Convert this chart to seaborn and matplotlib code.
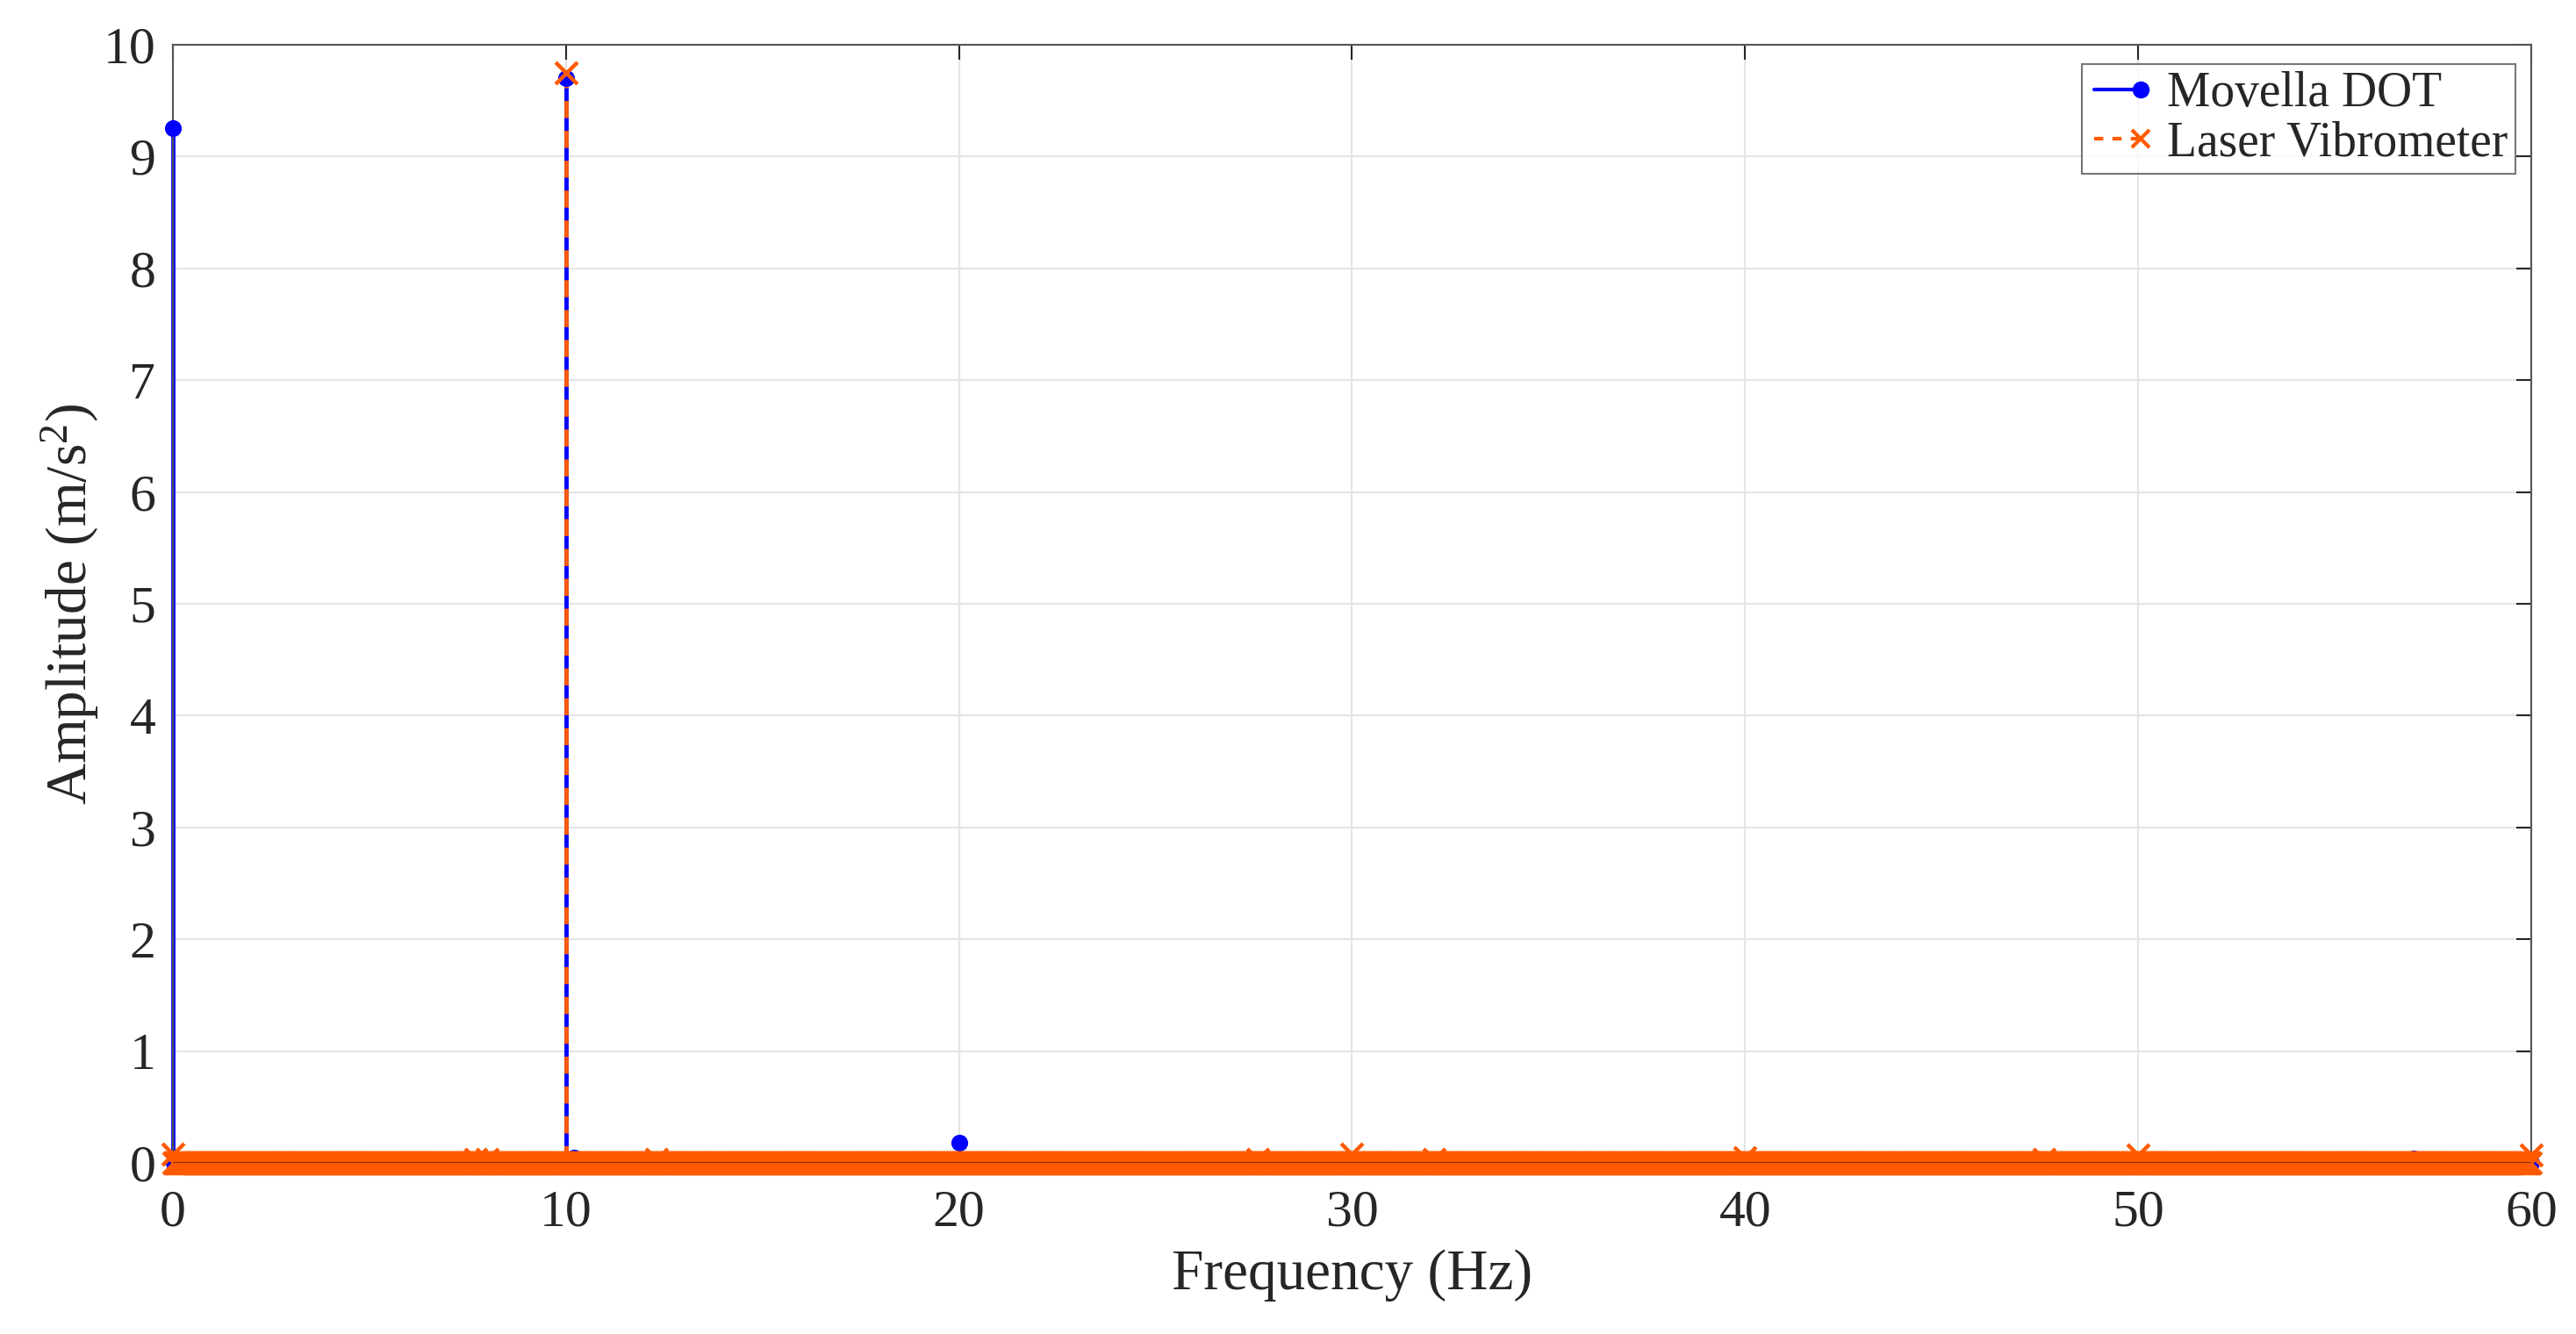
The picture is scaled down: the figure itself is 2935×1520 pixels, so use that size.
import numpy as np
import pandas as pd
import matplotlib
matplotlib.use('Agg')
import matplotlib.pyplot as plt
from matplotlib.lines import Line2D
from matplotlib.legend_handler import HandlerLine2D
import seaborn as sns

# frequency grid of the spectrum (Hz)
freq_step = 0.02
freq_max = 60

# peaks (Hz, m/s^2); everything else sits at ~0
dot_peak_freq = [0.0, 10.0, 10.2, 20.0, 57.0]
dot_peak_amp = [9.25, 9.70, 0.05, 0.18, 0.04]
laser_peak_freq = [0.0, 7.7, 8.0, 10.0, 12.3, 27.6, 30.0, 32.1, 40.0, 47.6, 50.0, 60.0]
laser_peak_amp = [0.08, 0.03, 0.03, 9.75, 0.03, 0.03, 0.08, 0.03, 0.05, 0.03, 0.07, 0.07]

xticks = [0, 10, 20, 30, 40, 50, 60]
yticks = [0, 1, 2, 3, 4, 5, 6, 7, 8, 9, 10]

blue = '#0000ff'
orange = '#ff5a00'

freq = np.round(np.arange(0, freq_max + freq_step / 2, freq_step), 2)


def spectrum(peak_f, peak_a):
    amp = pd.Series(0.0, index=freq)
    for f, a in zip(peak_f, peak_a):
        amp.loc[round(f, 2)] = a
    return pd.DataFrame({'freq': freq, 'amp': amp.values})


# legend entry like a stem: line with the marker at its right end
class StemHandler(HandlerLine2D):
    def create_artists(self, *args, **kwargs):
        arts = super().create_artists(*args, **kwargs)
        for a in arts:
            a.set_markevery([len(a.get_xdata()) - 1])
        return arts


dot = spectrum(dot_peak_freq, dot_peak_amp)
laser = spectrum(laser_peak_freq, laser_peak_amp)

sns.set_style('white')
plt.rcParams['font.family'] = ['Liberation Serif', 'DejaVu Serif']
plt.rcParams['mathtext.fontset'] = 'custom'
plt.rcParams['mathtext.rm'] = 'Liberation Serif'
plt.rcParams['mathtext.it'] = 'Liberation Serif:italic'

fig = plt.figure(figsize=(29.35, 15.2), dpi=100)
ax = fig.add_axes([0.0671, 0.1283, 0.9155, 0.8382])

ax.grid(True, color='#e4e4e4', linewidth=1.5, zorder=0)
ax.set_axisbelow(True)

# stems
ax.vlines(dot['freq'], 0, dot['amp'], color=blue, linewidth=3.5, zorder=2,
          clip_on=False)
ax.vlines(laser['freq'], 0, laser['amp'], color=orange, linewidth=3.5,
          linestyles=(0, (4, 3)), zorder=3, clip_on=False)

# markers
g = sns.scatterplot(x='freq', y='amp', data=dot, ax=ax, color=blue, marker='o',
                    s=190, linewidth=0, zorder=4, clip_on=False)
g = sns.scatterplot(x='freq', y='amp', data=laser, ax=ax, color=orange, marker='x',
                    s=320, linewidth=3.2, zorder=5, clip_on=False)

ax.axhline(0, color='#6a2a08', linewidth=2, zorder=6)

ax.set_xlim(0, 60)
ax.set_ylim(0, 10)
ax.set_xticks(xticks)
ax.set_yticks(yticks)
ax.tick_params(direction='in', length=12, width=1.5, colors='#262626',
               labelsize=43, top=True, right=True)
ax.tick_params(axis='x', pad=22)
ax.tick_params(axis='y', pad=14)
for s in ax.spines.values():
    s.set_color('#555555')
    s.set_linewidth(1.5)

g.set(xlabel='Frequency (Hz)', ylabel=r'Amplitude (m/s$^{2}$)')
ax.xaxis.label.set_size(47)
ax.yaxis.label.set_size(47)
ax.xaxis.labelpad = 10
ax.yaxis.labelpad = 2

handles = [
    Line2D([], [], color=blue, linewidth=3, marker='o', markersize=13),
    Line2D([], [], color=orange, linewidth=3, linestyle=(0, (2.5, 2.5)),
           marker='x', markersize=15, markeredgewidth=3),
]
leg = ax.legend(handles, ['Movella DOT', 'Laser Vibrometer'], loc='upper right',
                bbox_to_anchor=(1 - 18 / 2687, 1 - 22 / 1274),
                borderaxespad=0, fontsize=40, frameon=True, fancybox=False,
                edgecolor='#555555', numpoints=2, handlelength=1.15,
                borderpad=0.15, labelspacing=0.08, handletextpad=0.45,
                handler_map={Line2D: StemHandler(marker_pad=0.1, numpoints=2)})
leg.get_frame().set_linewidth(1.5)

fig.savefig('out.png', dpi=100, facecolor='white')
